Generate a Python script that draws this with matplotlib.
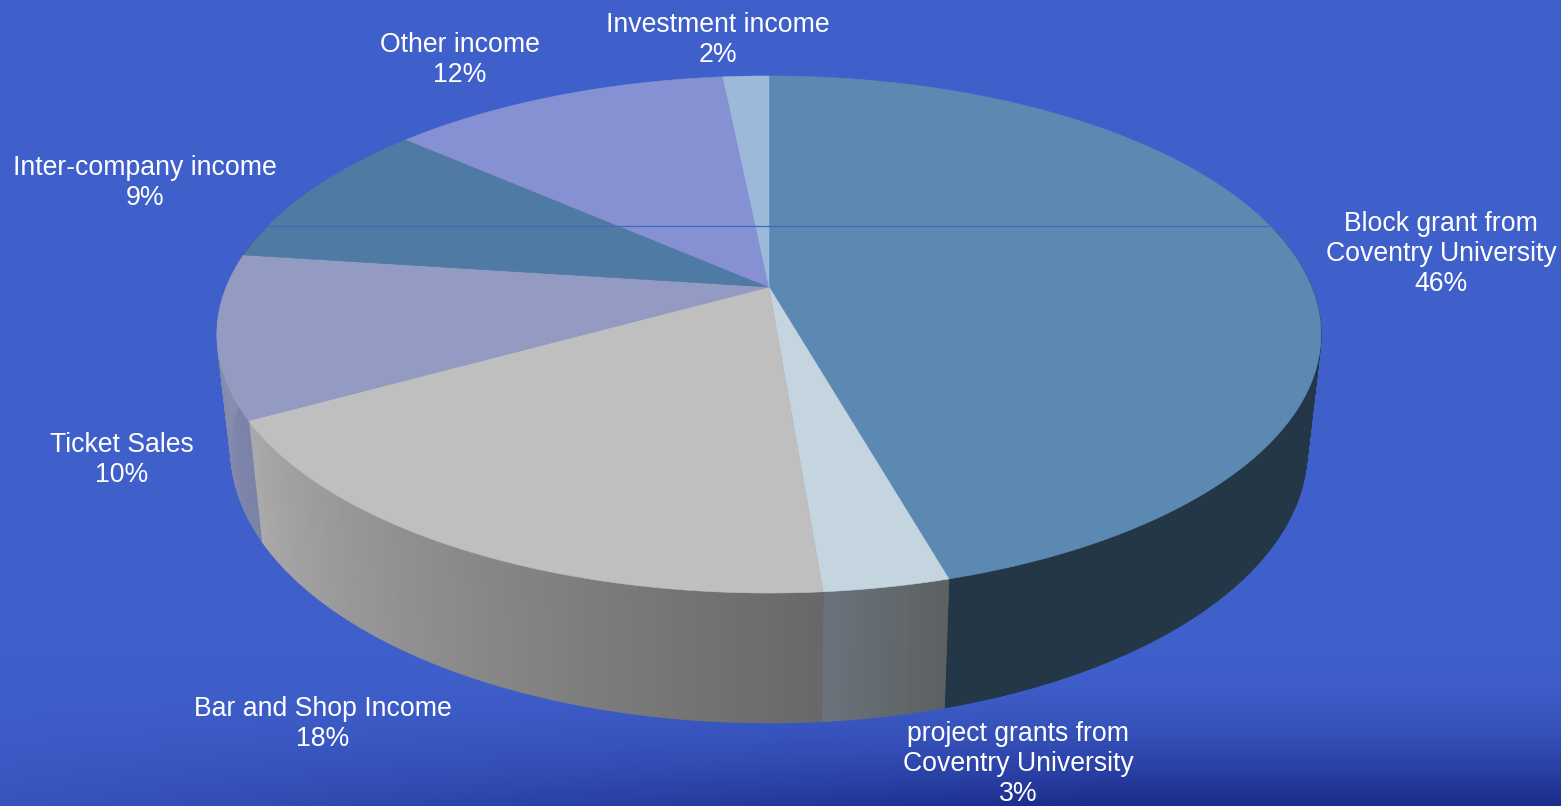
import numpy as np
import matplotlib
matplotlib.use('Agg')
import matplotlib.pyplot as plt

plt.rcParams['font.family'] = ['Liberation Sans', 'DejaVu Sans']

# slice shares, clockwise from 12 o'clock (labels are rounded)
names = ['Block grant from\nCoventry University', 'project grants from\nCoventry University',
         'Bar and Shop Income', 'Ticket Sales', 'Inter-company income', 'Other income', 'Investment income']
shares = [45.6, 3.1, 18.2, 10.2, 9.4, 11.9, 1.6]
pct_labels = ['46%', '3%', '18%', '10%', '9%', '12%', '2%']
label_x = [1441, 1018, 323, 122, 145, 460, 718]
label_y = [254, 764, 724, 460, 183, 60, 40]

top_colors = ['#5B89B1', '#C5D5E0', '#BFBFBF', '#949BC2', '#4F7AA3', '#8591D2', '#9DB9DA']
# wall colour at the clockwise start and end of each slice
side_start = ['#233747', '#5C6060', '#686868', '#7C83A8', '#2F4A63', '#505A80', '#5F7085']
side_end = ['#233747', '#6A737C', '#ABABAB', '#8D92B4', '#2F4A63', '#505A80', '#5F7085']

# projection of the disc on the picture
CX, CY = 769, 287
A, B, K = 542.6, 249.8, 0.1837


def top_rim(theta):
    d = 1 + K * np.cos(theta)
    return CX + A * np.sin(theta) / d, CY - B * np.cos(theta) / d


def bottom_rim(theta):
    x, y = top_rim(theta)
    return CX + 0.975 * (x - CX), CY + 113 + 1.055 * (y - CY)


def hex_rgb(c):
    return np.array(matplotlib.colors.to_rgb(c))


fig = plt.figure(figsize=(15.61, 8.06), dpi=100)
ax = fig.add_axes([0, 0, 1, 1])
ax.set_xlim(0, 1561)
ax.set_ylim(806, 0)
ax.axis('off')

# background, flat blue with a dark band at the lower right
H, W = 806, 1561
yy, xx = np.mgrid[0:H, 0:W]
fade = np.clip((yy - 650) / 156, 0, 1) ** 2.0
fade = fade * np.clip((xx + 500) / 1600, 0, 1) ** 1.3
base = hex_rgb('#3F5FCB')
dark = hex_rgb('#1A2A88')
bg = base[None, None, :] * (1 - fade[..., None]) + dark[None, None, :] * fade[..., None]
ax.imshow(bg, extent=(0, W, H, 0), aspect='auto', zorder=0)

edges = np.radians(np.cumsum([0] + shares) * 3.6)

# side wall, painted as thin strips, so the shading can run along it
for i in range(len(shares)):
    t0, t1 = edges[i], edges[i + 1]
    n = max(int((t1 - t0) / 0.01), 2)
    ts = np.linspace(t0, t1, n + 1)
    c0, c1 = hex_rgb(side_start[i]), hex_rgb(side_end[i])
    for j in range(n):
        # back half of the wall is hidden
        if np.cos(ts[j]) > 0.25:
            continue
        x0, y0 = top_rim(ts[j])
        x1, y1 = top_rim(ts[j + 1])
        x2, y2 = bottom_rim(ts[j + 1])
        x3, y3 = bottom_rim(ts[j])
        f = (j + 0.5) / n
        col = c0 * (1 - f) + c1 * f
        ax.fill([x0, x1, x2, x3], [y0, y1, y2, y3], color=col, lw=0.6, zorder=2)

# top of the pie
for i in range(len(shares)):
    ts = np.linspace(edges[i], edges[i + 1], 200)
    x, y = top_rim(ts)
    ax.fill(np.r_[CX, x], np.r_[CY, y], color=top_colors[i], lw=0.4, zorder=3)

# the thin line across the pie at the back
t_line = np.linspace(0, 2 * np.pi, 2000)
xr, yr = top_rim(t_line)
on_line = xr[np.argmin(np.abs(yr - 226) + (xr > CX) * 1e4)], xr[np.argmin(np.abs(yr - 226) + (xr < CX) * 1e4)]
ax.plot(on_line, [226, 226], color='#4468BE', lw=0.9, zorder=4)

for name, pct, lx, ly in zip(names, pct_labels, label_x, label_y):
    ax.text(lx, ly, name + '\n' + pct, color='white', fontsize=19.15, ha='center', va='center',
            linespacing=1.2, zorder=5)

fig.savefig('out.png', dpi=100)
